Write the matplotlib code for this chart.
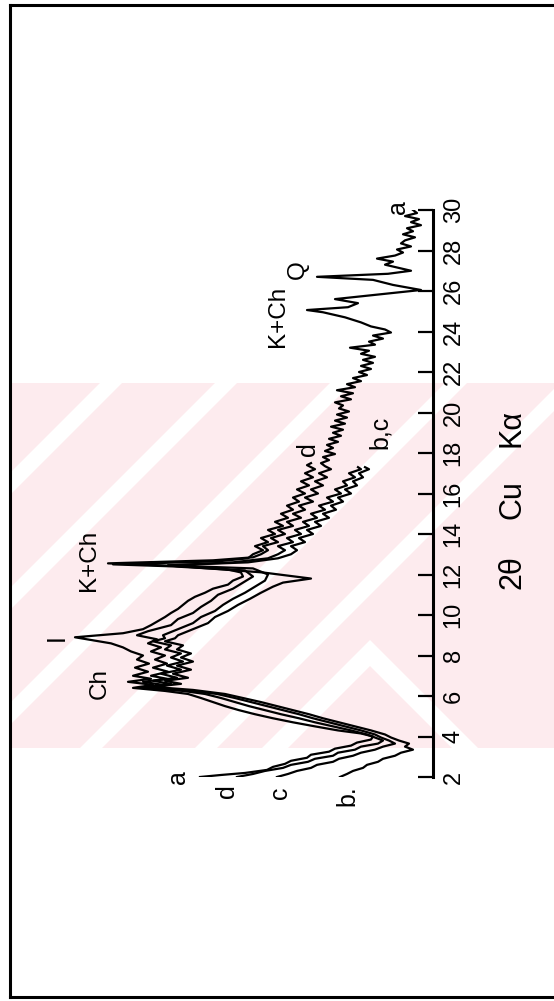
import matplotlib
matplotlib.use("Agg")
import matplotlib.pyplot as plt
from matplotlib.patches import Polygon, Rectangle

plt.rcParams['font.family'] = ['Liberation Sans Narrow', 'Liberation Sans', 'DejaVu Sans']

# ---------------- data (2-theta in degrees, intensity in arbitrary units) ----------------
tick_values = list(range(2, 31, 2))
tick_labels = [str(v) for v in tick_values]

a_tt = [2.0, 2.1, 2.2, 2.35, 2.5, 2.65, 2.8, 2.95, 3.1, 3.25, 3.4, 3.55, 3.7, 3.85, 4.0, 4.15, 4.3,
        4.5, 4.7, 4.9, 5.1, 5.3, 5.5, 5.7, 5.9, 6.1, 6.25, 6.4, 6.55, 6.7, 6.85, 7.0, 7.2, 7.4,
        7.6, 7.8, 8.0, 8.2, 8.4, 8.6, 8.75, 8.9, 9.1, 9.3, 9.5, 9.7, 9.9, 10.1, 10.3, 10.5, 10.7,
        10.9, 11.1, 11.3, 11.5, 11.7, 11.9, 12.1, 12.3, 12.45, 12.55, 12.7, 12.85, 13.0, 13.2,
        13.4, 13.6, 13.8, 14.0, 14.2, 14.4, 14.6, 14.8, 15.0, 15.2, 15.4, 15.6, 15.8, 16.0, 16.2,
        16.4, 16.6, 16.8, 17.0, 17.2, 17.35, 17.5, 17.65, 17.8, 17.95, 18.1, 18.25, 18.4, 18.55,
        18.7, 18.85, 19.0, 19.15, 19.3, 19.45, 19.6, 19.75, 19.9, 20.05, 20.2, 20.35, 20.5, 20.65,
        20.8, 20.95, 21.1, 21.25, 21.4, 21.55, 21.7, 21.85, 22.0, 22.15, 22.3, 22.45, 22.6, 22.75,
        22.9, 23.05, 23.2, 23.35, 23.5, 23.65, 23.8, 23.95, 24.1, 24.25, 24.45, 24.7,
        24.95, 25.06, 25.2, 25.4, 25.6, 25.8, 26.05, 26.3, 26.55, 26.7, 26.85, 27.0, 27.15, 27.3,
        27.45, 27.6, 27.75, 27.9, 28.05, 28.2, 28.35, 28.5, 28.65, 28.8, 28.95, 29.1, 29.25, 29.4,
        29.55, 29.7, 29.85, 30.0]
a_int = [233, 212, 188, 166, 160, 148, 142, 126, 122, 104, 98, 82, 76, 62, 60, 72, 95,
         118, 140, 160, 178, 194, 208, 220, 232, 245, 268, 300, 280, 305, 282, 300, 285, 298,
         284, 296, 290, 302, 310, 322, 340, 358, 310, 290, 282, 275, 268, 262, 255, 250, 245,
         238, 228, 220, 205, 200, 190, 192, 210, 270, 325, 220, 180, 172, 165,
         170, 155, 162, 148, 155, 140, 146, 132, 140, 128, 134, 120, 128, 115, 122,
         110, 118, 106, 114, 102, 108, 112, 104, 110, 98, 108, 100, 106, 95,
         104, 92, 100, 90, 102, 88, 98, 86, 96, 84, 94, 90, 98, 82,
         92, 80, 96, 78, 86, 72, 80, 66, 74, 62, 72, 60, 70, 58,
         72, 64, 83, 58, 64, 50, 60, 42, 48, 62, 72, 88,
         110, 126, 85, 75, 98, 60, 12, 40, 60, 116, 45, 22, 35, 48,
         40, 56, 38, 30, 36, 22, 32, 28, 18, 30, 20, 26, 12, 22,
         14, 28, 16, 20]

d_tt = [2.0, 2.15, 2.3, 2.45, 2.6, 2.75, 2.9, 3.05, 3.2, 3.35, 3.5, 3.65, 3.8, 3.95, 4.1, 4.3, 4.5,
        4.7, 4.9, 5.1, 5.3, 5.5, 5.7, 5.9, 6.1, 6.25, 6.4, 6.55, 6.7, 6.85, 7.0, 7.2, 7.4, 7.6,
        7.8, 8.0, 8.2, 8.4, 8.6, 8.8, 9.0, 9.2, 9.5, 9.8, 10.1, 10.4, 10.7, 11.0, 11.3, 11.6,
        11.9, 12.2, 12.4, 12.5, 12.65, 12.8, 13.0, 13.2, 13.4, 13.6, 13.8, 14.0, 14.2, 14.4,
        14.6, 14.8, 15.0, 15.2, 15.4, 15.6, 15.8, 16.0, 16.2, 16.4, 16.6, 16.8, 17.0, 17.2,
        17.4, 17.5]
d_int = [196, 180, 168, 150, 142, 125, 118, 100, 95, 78, 72, 55, 50, 58, 66, 82, 100,
         118, 134, 152, 168, 184, 198, 212, 228, 250, 292, 270, 290, 266, 282, 265, 280, 266,
         278, 268, 282, 272, 285, 276, 296, 285, 262, 255, 240, 232, 222, 215, 200, 190,
         180, 188, 260, 320, 215, 185, 180, 170, 178, 165, 172, 158, 165, 150,
         158, 145, 152, 140, 146, 134, 140, 128, 136, 124, 132, 120, 128, 118,
         126, 122]

c_tt = [2.0, 2.15, 2.3, 2.45, 2.6, 2.75, 2.9, 3.05, 3.2, 3.35, 3.5, 3.65, 3.8, 3.95, 4.1, 4.3, 4.5,
        4.7, 4.9, 5.1, 5.3, 5.5, 5.7, 5.9, 6.1, 6.3, 6.45, 6.6, 6.75, 6.9, 7.1, 7.3, 7.5, 7.7,
        7.9, 8.1, 8.3, 8.5, 8.7, 8.85, 9.0, 9.3, 9.6, 9.9, 10.2, 10.5, 10.8, 11.1, 11.4, 11.7,
        12.0, 12.3, 12.45, 12.6, 12.8, 13.0, 13.2, 13.4, 13.6, 13.8, 14.0, 14.2, 14.4, 14.6,
        14.8, 15.0, 15.2, 15.4, 15.6, 15.8, 16.0, 16.2, 16.4, 16.6, 16.8, 17.0, 17.2, 17.3]
c_int = [156, 145, 136, 122, 116, 100, 94, 80, 72, 58, 50, 38, 44, 52, 58, 72, 88,
         104, 120, 134, 150, 166, 182, 198, 216, 250, 288, 262, 280, 256, 272, 252, 266, 250,
         262, 252, 268, 262, 280, 268, 270, 255, 240, 232, 218, 210, 200, 188, 178, 168,
         165, 180, 265, 200, 165, 155, 148, 155, 140, 146, 132, 138, 124, 130,
         116, 122, 108, 114, 100, 106, 92, 98, 86, 90, 78, 84, 72, 75]

b_tt = [2.0, 2.15, 2.3, 2.45, 2.6, 2.75, 2.9, 3.05, 3.2, 3.35, 3.5, 3.65, 3.8, 3.95, 4.1, 4.3, 4.5,
        4.7, 4.9, 5.1, 5.3, 5.5, 5.7, 5.9, 6.1, 6.3, 6.45, 6.6, 6.75, 6.9, 7.1, 7.3, 7.5, 7.7,
        7.9, 8.1, 8.3, 8.5, 8.7, 8.85, 9.0, 9.3, 9.6, 9.9, 10.2, 10.5, 10.8, 11.1, 11.4, 11.6,
        11.8, 12.1, 12.45, 12.6, 12.8, 13.0, 13.2, 13.4, 13.6, 13.8, 14.0, 14.2, 14.4, 14.6,
        14.8, 15.0, 15.2, 15.4, 15.6, 15.8, 16.0, 16.2, 16.4, 16.6, 16.8, 17.0, 17.2, 17.3]
b_int = [93, 86, 80, 70, 66, 55, 50, 38, 32, 20, 28, 24, 34, 42, 48, 62, 78,
         94, 110, 124, 140, 156, 172, 190, 208, 240, 280, 252, 268, 245, 260, 242, 256, 240,
         252, 242, 256, 250, 268, 258, 255, 240, 225, 218, 205, 195, 183, 172, 160, 150,
         122, 170, 265, 185, 155, 142, 136, 142, 128, 134, 120, 126, 112, 118,
         104, 110, 97, 102, 90, 95, 82, 88, 76, 80, 70, 74, 64, 68]

curves = [(a_tt, a_int), (d_tt, d_int), (c_tt, c_int), (b_tt, b_int)]

# ---------------- figure ----------------
W, H = 554, 1001
fig = plt.figure(figsize=(W / 100, H / 100), dpi=100)

# background layer in pixel coordinates (frame + faint watermark)
bg = fig.add_axes([0, 0, 1, 1], zorder=0)
bg.set_xlim(0, W)
bg.set_ylim(H, 0)
bg.axis('off')
band = Rectangle((12, 383), 542, 365, facecolor='#fdebee', edgecolor='none')
bg.add_patch(band)
for c0 in range(-380, 260, 115):
    stripe = Polygon([(c0, 748), (c0 + 22, 748), (c0 + 22 + 365, 383), (c0 + 365, 383)],
                     closed=True, facecolor='white', edgecolor='none')
    bg.add_patch(stripe)
    stripe.set_clip_path(band)
# chevron of the watermark (lower right)
chev = Polygon([(262, 748), (370, 640), (478, 748), (452, 748), (370, 666), (288, 748)],
               closed=True, facecolor='white', edgecolor='none')
bg.add_patch(chev)
chev.set_clip_path(band)
bg.plot([10, 10], [5, 997], color='black', lw=2.2)
bg.plot([10, 554], [5, 5], color='black', lw=2.2)
bg.plot([10, 554], [997, 997], color='black', lw=2.2)

# main chart: 2-theta runs upward, intensity grows to the left
x_left, x_axis, y_top, y_bot = 40, 433, 210, 777
ax = fig.add_axes([x_left / W, 1 - y_bot / H, (x_axis - x_left) / W, (y_bot - y_top) / H], zorder=1)
ax.patch.set_visible(False)
ax.set_xlim(x_axis - x_left, 0)
ax.set_ylim(2, 30)
for s in ['left', 'top', 'bottom']:
    ax.spines[s].set_visible(False)
ax.spines['right'].set_linewidth(2.2)
ax.set_xticks([])
ax.yaxis.set_ticks_position('right')
ax.set_yticks(tick_values)
ax.set_yticklabels(tick_labels)
ax.tick_params(axis='y', direction='in', length=11, width=1.6, labelsize=17, pad=7,
               labelrotation=90)
for lab_ in ax.get_yticklabels():
    lab_.set_va('center')

for tt, inten in curves:
    ax.plot(inten, tt, color='black', lw=1.6, solid_joinstyle='round')

def lab(x, y, s, size=18):
    ax.text(x, y, s, rotation=90, ha='center', va='center', fontsize=size, color='black')

# peak labels
lab(155, 24.75, 'K+Ch', 17.5)
lab(135, 27.05, 'Q', 17.5)
lab(344, 12.7, 'K+Ch', 17.5)
lab(376, 8.9, 'I')
lab(333, 6.6, 'Ch', 17.5)
# curve labels
lab(35, 30.15, 'a')
lab(125, 18.2, 'd')
lab(53, 19.0, 'b,c')
lab(255, 2.0, 'a')
lab(206, 1.3, 'd')
lab(153, 1.2, 'c')
lab(86, 1.1, 'b.')

# axis title
fig.text(512 / W, 1 - 572 / H, '2θ', rotation=90, ha='center', va='center', fontsize=22)
fig.text(512 / W, 1 - 500 / H, 'Cu', rotation=90, ha='center', va='center', fontsize=22)
fig.text(512 / W, 1 - 428 / H, 'Kα', rotation=90, ha='center', va='center', fontsize=22)

fig.savefig('out.png', dpi=100)
